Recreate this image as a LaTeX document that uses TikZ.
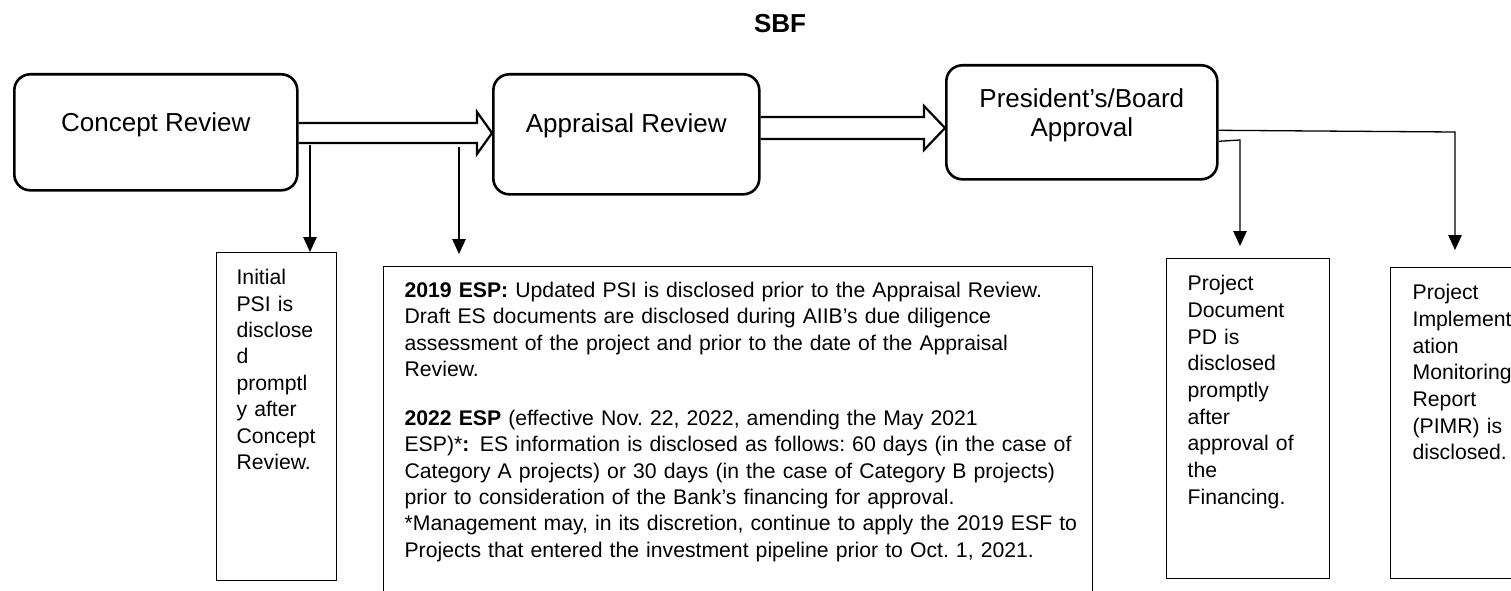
\documentclass[tikz,border=0pt]{standalone}
\usepackage{fontspec}
\setmainfont{Liberation Sans}
\usetikzlibrary{arrows.meta,calc}
\hyphenpenalty=10000
\exhyphenpenalty=10000
\hbadness=10000
\hfuzz=50pt
\frenchspacing
\begin{document}
\begin{tikzpicture}[x=1pt,y=-1pt,
  stage/.style={draw, line width=2.6pt, rounded corners=16pt, inner sep=0pt, anchor=north west, align=center, font=\fontsize{26}{29}\selectfont},
  note/.style={draw, line width=1.2pt, inner ysep=0pt, anchor=north west, align=left, font=\fontsize{21.2}{26.4}\selectfont\frenchspacing},
  notewide/.style={note, font=\fontsize{21.2}{26.7}\selectfont\frenchspacing},
  conn/.style={line width=1.3pt, -{Triangle[length=15pt,width=13.5pt]}},
  fat/.style={line width=2.2pt, line join=miter},
]
\useasboundingbox (0,0) rectangle (1511,591);

% title
\node[font=\bfseries\fontsize{26}{30}\selectfont, anchor=base] (title) at (780,33) {SBF};

% stages
\node[stage, minimum width=283pt] (cr) at (13,73) {\rule[-59pt]{0pt}{116pt}Concept Review};
\node[stage, minimum width=266pt] (ar) at (492,73) {\rule[-62pt]{0pt}{120pt}Appraisal Review};
\node[stage, minimum width=271pt] (pb) at (945,64) {\rule{0pt}{42pt}President’s/Board\\Approval\rule[-43pt]{0pt}{43pt}};

% hollow arrows
\coordinate (a1t) at (0,123); \coordinate (a1b) at (0,143); \coordinate (a1m) at (0,133);
\draw[fat] (cr.east |- a1t) -- (477,123) -- (477,112) -- (ar.west |- a1m) -- (477,154) -- (477,143) -- (cr.east |- a1b);
\coordinate (a2t) at (0,117); \coordinate (a2b) at (0,139); \coordinate (a2m) at (0,128);
\draw[fat] (ar.east |- a2t) -- (924,117) -- (924,106) -- (pb.west |- a2m) -- (924,150) -- (924,139) -- (ar.east |- a2b);

% text boxes
\node[note, text width=80pt, inner xsep=20pt] (init) at (216,252)
  {\rule{0pt}{32pt}Initial\\PSI is\\disclose\\d\\promptl\\y after\\Concept\\Review.\rule[-111pt]{0pt}{111pt}};

\node[note, font=\fontsize{21.2}{26.3}\selectfont\frenchspacing, text width=667pt, inner xsep=21pt] (esp) at (383,266)
  {\rule{0pt}{31pt}\mbox{\textbf{2019 ESP:} Updated PSI is disclosed prior to the Appraisal Review.}\\
   \mbox{Draft ES documents are disclosed during AIIB’s due diligence}\\
   \mbox{assessment of the project and prior to the date of the Appraisal}\\
   Review.\\[22.7pt]
   \mbox{\textbf{2022 ESP} (effective Nov. 22, 2022, amending the May 2021}\\
   \mbox{ESP)*\textbf{:}\enspace ES information is disclosed as follows: 60 days (in the case of}\\
   \mbox{Category A projects) or 30 days (in the case of Category B projects)}\\
   \mbox{prior to consideration of the Bank’s financing for approval.}\\
   \mbox{*Management may, in its discretion, continue to apply the 2019 ESF to}\\
   \mbox{Projects that entered the investment pipeline prior to Oct. 1, 2021.}\rule[-45pt]{0pt}{45pt}};

\node[notewide, text width=121pt, inner xsep=21pt] (pd) at (1166,258)
  {\rule{0pt}{32pt}Project\\Document\\PD is\\disclosed\\promptly\\after\\approval of\\the\\Financing.\rule[-74pt]{0pt}{74pt}};

\node[notewide, text width=106pt, inner xsep=22pt] (pimr) at (1390,267)
  {\rule{0pt}{32pt}Project\\Implement\\ation\\Monitoring\\Report\\(PIMR) is\\disclosed.\rule[-119pt]{0pt}{119pt}};

% connectors
\coordinate (s1) at (310,145);
\draw[conn] (s1) -- (s1 |- init.north);
\coordinate (s2) at (459,147);
\coordinate (e2) at (459,254);
\draw[conn] (s2) -- (e2);
\coordinate (k3) at (1455,132);
\coordinate (e3) at (1455,250);
\draw[conn] ($(pb.east)+(0,8)$) -- (k3) -- (e3);
\coordinate (k4) at (1240,140);
\coordinate (e4) at (1240,246);
\draw[conn] ($(pb.east)+(0,19)$) -- (k4) -- (e4);
\end{tikzpicture}
\end{document}
